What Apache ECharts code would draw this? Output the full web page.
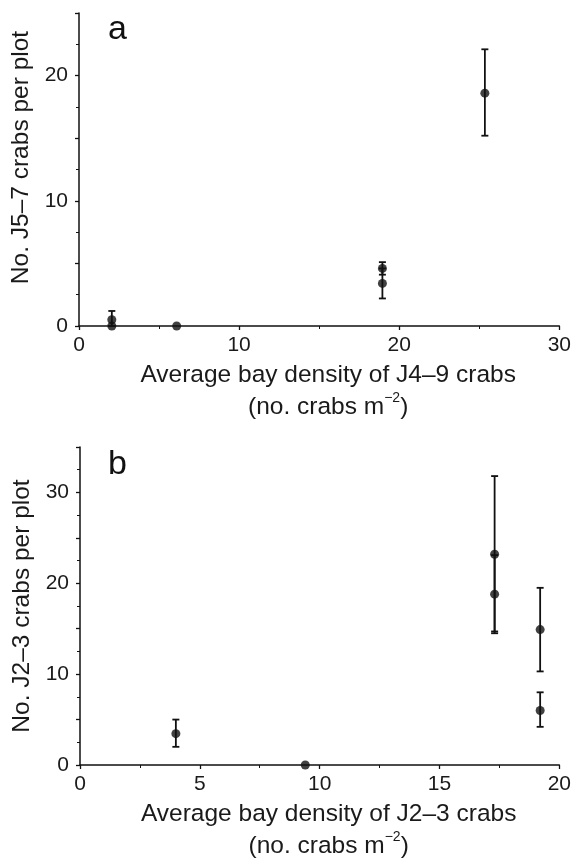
<!DOCTYPE html>
<html><head><meta charset="utf-8">
<script src="https://cdn.jsdelivr.net/npm/echarts@6/dist/echarts.min.js"></script>
<style>html,body{margin:0;padding:0;background:#fff}#c{width:574px;height:860px}</style>
</head><body><div id="c"></div>
<script>
// Panel a
const aX  = [2.05, 2.05, 6.1, 18.95, 18.95, 25.35];
const aY  = [0.5, 0, 0, 4.6, 3.4, 18.6];
const aLo = [0, 0, 0, 4.1, 2.2, 15.2];
const aHi = [1.2, 0, 0, 5.1, 4.6, 22.1];
const aXTicks = [0, 10, 20, 30];
const aYTicks = [0, 10, 20];
// Panel b
const bX  = [4.0, 9.4, 17.3, 17.3, 19.2, 19.2];
const bY  = [3.45, 0, 23.2, 18.8, 14.9, 6.0];
const bLo = [2.0, 0, 14.7, 14.5, 10.3, 4.2];
const bHi = [5.0, 0, 31.8, 23.1, 19.5, 8.0];
const bXTicks = [0, 5, 10, 15, 20];
const bYTicks = [0, 10, 20, 30];

const FONT = 'Liberation Sans';
const axisColor = '#111';
const textColor = '#1a1a1a';

function pts(xs, ys){ return xs.map((x,i)=>[x, ys[i]]); }
function errs(xs, lo, hi){ return xs.map((x,i)=>[x, lo[i], hi[i]]).filter(d=>d[2]>d[1]); }

function errSeries(idx, data){
  return {
    type:'custom', xAxisIndex:idx, yAxisIndex:idx, data:data, z:3, clip:false,
    renderItem:function(params, api){
      const x = api.value(0);
      const top = api.coord([x, api.value(2)]);
      const bot = api.coord([x, api.value(1)]);
      const w = 3.5;
      const st = {stroke:'#111', lineWidth:1.8};
      return {type:'group', children:[
        {type:'line', shape:{x1:top[0], y1:top[1], x2:bot[0], y2:bot[1]}, style:st},
        {type:'line', shape:{x1:top[0]-w, y1:top[1], x2:top[0]+w, y2:top[1]}, style:st},
        {type:'line', shape:{x1:bot[0]-w, y1:bot[1], x2:bot[0]+w, y2:bot[1]}, style:st}
      ]};
    }
  };
}

function xAxis(idx, max, interval, ticks, l1){
  return {
    type:'value', gridIndex:idx, min:0, max:max, interval:interval,
    axisLine:{show:true, onZero:false, lineStyle:{color:axisColor, width:1.5}},
    axisTick:{show:true, inside:false, length:4, lineStyle:{color:axisColor, width:1.3}},
    minorTick:{show:true, splitNumber:2, length:3, lineStyle:{color:axisColor}},
    splitLine:{show:false},
    axisLabel:{color:textColor, fontFamily:FONT, fontSize:21, margin:9,
      formatter:v=>ticks.includes(v)?String(v):''},
    name:'{t|'+l1+'}\n{t|(no. crabs m}{s|−2}{t|)}',
    nameLocation:'middle', nameGap:33,
    nameTextStyle:{fontFamily:FONT, color:textColor, padding:[0,0,0,18],
      rich:{t:{fontSize:24.5, fontFamily:FONT, color:textColor, lineHeight:32},
            s:{fontSize:14, fontFamily:FONT, color:textColor, verticalAlign:'top', lineHeight:32, padding:[0,0,10,0]}}}
  };
}
function yAxis(idx, max, interval, ticks, name, pad){
  return {
    type:'value', gridIndex:idx, min:0, max:max, interval:interval,
    axisLine:{show:true, onZero:false, lineStyle:{color:axisColor, width:1.5}},
    axisTick:{show:true, inside:false, length:4, lineStyle:{color:axisColor, width:1.3}},
    minorTick:{show:true, splitNumber:2, length:3, lineStyle:{color:axisColor}},
    splitLine:{show:false},
    axisLabel:{color:textColor, fontFamily:FONT, fontSize:21, margin:11,
      formatter:v=>ticks.includes(v)?String(v):''},
    name:name, nameLocation:'middle', nameGap:45,
    nameTextStyle:{fontFamily:FONT, fontSize:24.5, color:textColor, padding:pad}
  };
}

const chart = echarts.init(document.getElementById('c'), null, {renderer:'canvas'});
chart.setOption({
  animation:false,
  backgroundColor:'#fff',
  title:[
    {text:'a', left:108, top:13, padding:0, textStyle:{fontFamily:FONT, fontSize:34, fontWeight:'normal', color:'#111'}},
    {text:'b', left:108, top:448, padding:0, textStyle:{fontFamily:FONT, fontSize:34, fontWeight:'normal', color:'#111'}}
  ],
  grid:[
    {left:79, right:13, top:13, height:313},
    {left:80, right:13, top:447, height:318}
  ],
  xAxis:[ xAxis(0, 30, 10, aXTicks, 'Average bay density of J4–9 crabs'),
          xAxis(1, 20, 5, bXTicks, 'Average bay density of J2–3 crabs') ],
  yAxis:[ yAxis(0, 25, 5, aYTicks, 'No. J5–7 crabs per plot', [0,0,0,24]),
          yAxis(1, 35, 5, bYTicks, 'No. J2–3 crabs per plot', 0) ],
  series:[
    errSeries(0, errs(aX, aLo, aHi)),
    {type:'scatter', xAxisIndex:0, yAxisIndex:0, data:pts(aX, aY), symbol:'circle', symbolSize:9,
      itemStyle:{color:'#111'}, z:4, clip:false},
    errSeries(1, errs(bX, bLo, bHi)),
    {type:'scatter', xAxisIndex:1, yAxisIndex:1, data:pts(bX, bY), symbol:'circle', symbolSize:9,
      itemStyle:{color:'#111'}, z:4, clip:false}
  ]
});
</script></body></html>
